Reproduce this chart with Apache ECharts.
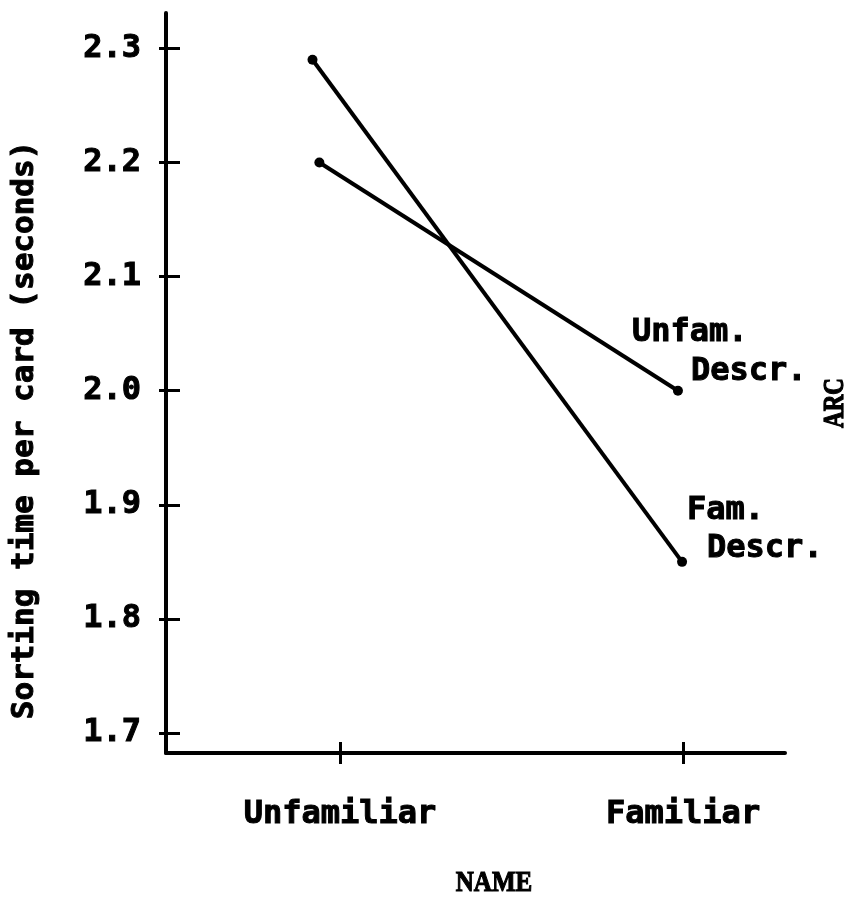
<!DOCTYPE html>
<html>
<head>
<meta charset="utf-8">
<script src="https://cdn.jsdelivr.net/npm/echarts@6/dist/echarts.min.js"></script>
<style>
html,body{margin:0;padding:0;background:#fff;}
#chart{width:849px;height:901px;}
</style>
</head>
<body>
<div id="chart"></div>
<script>
// ---- data ----
const categories = ['Unfamiliar', 'Familiar'];
const categoryPositions = [1, 2];
const yTickValues = [1.7, 1.8, 1.9, 2.0, 2.1, 2.2, 2.3];

const unfamDescrName = 'Unfam. Descr.';
const unfamDescrX = [0.94, 1.985];
const unfamDescrY = [2.20, 2.00];

const famDescrName = 'Fam. Descr.';
const famDescrX = [0.92, 1.997];
const famDescrY = [2.29, 1.85];

const yAxisTitle = 'Sorting time per card (seconds)';
const xAxisTitle = 'NAME';
const legendTitle = 'ARC';

// ---- build ----
const mono = '"DejaVu Sans Mono", "Liberation Mono", monospace';
const serif = '"Liberation Serif", "DejaVu Serif", serif';
const heavy = { textBorderColor: '#000', textBorderWidth: 1 };

function pairs(xs, ys) { return xs.map((x, i) => [x, ys[i]]); }

function withEndLabel(data, label) {
  const d = data.map(p => ({ value: p }));
  d[d.length - 1].label = Object.assign({ show: true }, label);
  return d;
}

function monoStyle(lh, extra) {
  return Object.assign({ fontFamily: mono, fontWeight: 'bold', fontSize: 32, lineHeight: lh, color: '#000' }, heavy, extra || {});
}

const yMin = 1.6825, yMax = 2.331;
const xMin = 0.493, xMax = 2.297;

const chart = echarts.init(document.getElementById('chart'), null, { renderer: 'canvas' });

const yBase = {
  type: 'value', min: yMin, max: yMax, position: 'left',
  splitLine: { show: false },
  axisLine: { show: true, lineStyle: { color: '#000', width: 4 } }
};

const option = {
  animation: false,
  backgroundColor: '#fff',
  grid: { left: 166, right: 64, top: 13, bottom: 148, containLabel: false },
  xAxis: [{
    type: 'value', min: xMin, max: xMax,
    splitLine: { show: false },
    axisLine: { show: true, lineStyle: { color: '#000', width: 4 } },
    axisTick: { show: true, inside: true, length: 11, customValues: categoryPositions, lineStyle: { color: '#000', width: 3 } },
    axisLabel: Object.assign({
      show: true, customValues: categoryPositions, margin: 46,
      formatter: v => categories[categoryPositions.indexOf(Math.round(v))] || ''
    }, monoStyle(32))
  }, {
    type: 'value', min: xMin, max: xMax, position: 'bottom',
    splitLine: { show: false },
    axisLine: { show: false },
    axisTick: { show: true, inside: false, length: 11, customValues: categoryPositions, lineStyle: { color: '#000', width: 3 } },
    axisLabel: { show: false }
  }],
  yAxis: [Object.assign({}, yBase, {
    axisTick: { show: true, inside: true, length: 14, customValues: yTickValues, lineStyle: { color: '#000', width: 3 } },
    axisLabel: Object.assign({
      show: true, customValues: yTickValues, margin: 25,
      formatter: v => v.toFixed(1)
    }, monoStyle(32))
  }), Object.assign({}, yBase, {
    axisLine: { show: false },
    axisTick: { show: true, inside: false, length: 7, customValues: yTickValues, lineStyle: { color: '#000', width: 3 } },
    axisLabel: { show: false }
  })],
  series: [{
    name: unfamDescrName, type: 'line', xAxisIndex: 0, yAxisIndex: 0,
    data: withEndLabel(pairs(unfamDescrX, unfamDescrY), {
      position: [-41, -73], align: 'left', verticalAlign: 'top',
      formatter: '{a|Unfam.}\n{b|Descr.}',
      rich: {
        a: monoStyle(39),
        b: monoStyle(39, { padding: [0, 0, 0, 59] })
      }
    }),
    symbol: 'circle', symbolSize: 10,
    itemStyle: { color: '#000' },
    lineStyle: { color: '#000', width: 4 }
  }, {
    name: famDescrName, type: 'line', xAxisIndex: 0, yAxisIndex: 0,
    data: withEndLabel(pairs(famDescrX, famDescrY), {
      position: [10, -65], align: 'left', verticalAlign: 'top',
      formatter: '{a|Fam.}\n{b|Descr.}',
      rich: {
        a: monoStyle(38),
        b: monoStyle(38, { padding: [0, 0, 0, 20] })
      }
    }),
    symbol: 'circle', symbolSize: 10,
    itemStyle: { color: '#000' },
    lineStyle: { color: '#000', width: 4 }
  }],
  graphic: [{
    type: 'text', x: 25, y: 430, rotation: Math.PI / 2,
    style: Object.assign({ text: yAxisTitle, fill: '#000', font: 'bold 31px ' + mono, textAlign: 'center', textVerticalAlign: 'middle', stroke: '#000', lineWidth: 1 })
  }, {
    type: 'text', x: 836, y: 403, rotation: Math.PI / 2, scaleY: 1.25,
    style: { text: legendTitle, fill: '#000', font: 'bold 23px ' + serif, textAlign: 'center', textVerticalAlign: 'middle', stroke: '#000', lineWidth: 1 }
  }, {
    type: 'text', x: 494, y: 883, scaleY: 1.2,
    style: { text: xAxisTitle, fill: '#000', font: 'bold 25px ' + serif, textAlign: 'center', textVerticalAlign: 'middle', stroke: '#000', lineWidth: 1 }
  }]
};

chart.setOption(option);
</script>
</body>
</html>
